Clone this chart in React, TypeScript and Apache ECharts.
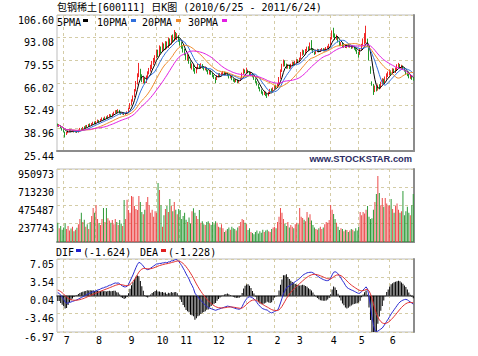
import React, { useEffect, useRef } from "react";
import * as echarts from "echarts";

// ---- calendar (trading days per month, 2010/6/25 - 2011/6/24) ----
const monthLabels = ["6", "7", "8", "9", "10", "11", "12", "1", "2", "3", "4", "5", "6"];
const monthYears = [2010, 2010, 2010, 2010, 2010, 2010, 2010, 2011, 2011, 2011, 2011, 2011, 2011];
const monthTradingDays = [4, 22, 22, 19, 16, 22, 23, 19, 15, 23, 19, 21, 17];

// ---- daily prices ----
const opens = [
  41.2, 40.5, 40.6, 39.0,
  38.0, 36.8, 35.7, 36.5, 37.2, 37.9, 37.1, 37.5, 36.8, 37.2, 36.6, 38.0, 38.6, 38.3, 39.5, 39.2, 40.4, 40.1, 41.3, 40.9, 41.7, 42.5,
  42.0, 42.9, 43.6, 43.0, 44.2, 44.9, 44.4, 45.5, 45.1, 46.3, 46.9, 46.2, 47.5, 48.4, 49.1, 48.7, 49.7, 48.1, 47.7, 48.0, 47.4, 47.9,
  48.7, 50.8, 53.4, 55.3, 58.1, 61.8, 66.0, 71.0, 73.0, 70.0, 67.5, 68.2, 66.5, 69.8, 72.1, 73.8, 75.0, 78.2, 79.0,
  82.0, 84.0, 82.8, 86.0, 85.2, 88.0, 86.5, 89.0, 87.8, 90.8, 89.6, 93.0, 91.8, 95.0, 93.5, 94.0,
  91.5, 89.0, 87.4, 85.3, 83.2, 80.5, 81.6, 78.0, 75.4, 76.6, 74.0, 72.6, 75.0, 76.4, 75.0, 76.8, 75.3, 74.4, 74.8, 73.5, 72.0, 72.8,
  71.4, 70.2, 69.0, 68.4, 70.1, 71.0, 70.5, 71.7, 72.1, 71.2, 71.8, 70.5, 69.4, 69.8, 68.3, 67.4, 66.9, 67.8, 66.7, 67.5, 68.8, 71.6, 73.3,
  72.8, 73.4, 72.4, 71.0, 71.6, 70.0, 68.4, 66.7, 65.0, 63.2, 61.6, 60.3, 59.5, 60.5, 59.0, 58.5, 60.3, 62.0, 61.4,
  62.9, 64.1, 63.6, 65.4, 69.0, 73.1, 76.6, 78.4, 76.8, 75.2, 76.5, 75.0, 76.9, 78.1, 77.3,
  78.4, 79.6, 78.9, 80.8, 83.0, 84.8, 83.5, 85.6, 87.0, 86.0, 88.5, 86.0, 84.1, 83.8, 85.0, 85.6, 85.0, 85.7, 86.0, 85.3, 86.0, 86.9, 87.5,
  88.8, 92.6, 96.0, 94.3, 92.6, 93.5, 90.6, 88.8, 89.5, 87.8, 88.4, 87.5, 88.5, 87.8, 88.0, 87.1, 87.9, 86.5, 85.7,
  84.0, 83.4, 85.9, 88.8, 90.1, 91.5, 91.8, 87.5, 74.5, 66.0, 63.0, 61.5, 63.2, 62.0, 64.4, 63.1, 65.7, 67.5, 66.4, 69.0, 70.6,
  71.4, 72.5, 71.9, 73.8, 72.9, 74.3, 76.0, 76.6, 75.3, 75.8, 74.7, 73.3, 71.5, 70.9, 69.3, 69.8, 68.5,
];
const closes = [
  40.6, 40.9, 39.2, 38.1,
  37.0, 35.6, 36.4, 37.3, 37.8, 37.2, 37.6, 36.9, 37.1, 36.7, 37.9, 38.5, 38.2, 39.4, 39.1, 40.3, 40.0, 41.2, 40.8, 41.6, 42.4, 41.9,
  42.8, 43.5, 42.9, 44.1, 44.8, 44.3, 45.4, 45.0, 46.2, 46.8, 46.1, 47.4, 48.3, 49.0, 48.6, 49.6, 48.2, 47.6, 48.1, 47.3, 47.8, 48.6,
  50.6, 53.2, 55.1, 57.9, 61.5, 65.9, 70.4, 73.5, 70.2, 67.8, 68.4, 66.3, 69.6, 71.9, 73.6, 75.2, 77.9, 79.1, 81.5,
  83.8, 82.6, 85.7, 84.9, 87.8, 86.4, 88.9, 87.5, 90.6, 89.4, 92.8, 91.6, 95.2, 93.4, 94.1, 91.8,
  89.2, 87.6, 85.1, 83.6, 80.4, 81.9, 78.3, 75.6, 76.8, 74.1, 72.8, 74.9, 76.3, 75.2, 76.9, 75.4, 74.2, 75.0, 73.6, 72.1, 72.9, 71.5,
  70.3, 69.1, 68.2, 70.0, 71.2, 70.4, 71.6, 72.3, 71.3, 71.9, 70.6, 69.5, 69.9, 68.4, 67.5, 67.0, 67.9, 66.8, 67.4, 68.6, 71.5, 73.4, 72.6,
  73.6, 72.6, 71.2, 71.8, 70.1, 68.6, 66.9, 65.2, 63.4, 61.8, 60.5, 59.4, 60.6, 59.1, 58.4, 60.2, 61.9, 61.3, 62.8,
  64.0, 63.5, 65.2, 68.8, 72.9, 76.4, 78.6, 76.9, 75.3, 76.4, 75.1, 76.8, 78.0, 77.2, 78.6,
  79.5, 78.8, 80.6, 82.9, 84.6, 83.7, 85.4, 86.9, 85.8, 88.4, 86.2, 84.6, 83.6, 84.9, 85.8, 84.9, 85.6, 86.2, 85.4, 85.9, 86.8, 87.4, 88.6,
  92.4, 95.8, 94.5, 92.8, 93.6, 90.8, 88.9, 89.6, 87.9, 88.3, 87.6, 88.4, 87.9, 88.1, 87.2, 87.8, 86.6, 85.8, 84.2,
  83.3, 85.7, 88.6, 89.9, 91.4, 92.3, 88.2, 79.4, 71.5, 64.4, 61.8, 63.4, 62.1, 64.2, 63.0, 65.6, 67.3, 66.6, 68.9, 70.5, 71.3,
  72.6, 71.8, 73.7, 73.0, 74.2, 75.9, 76.8, 75.4, 75.9, 74.8, 73.4, 71.6, 71.0, 69.5, 69.9, 68.6, 68.2,
];
const lows = [
  40.0, 39.8, 38.9, 37.6,
  36.5, 33.5, 35.0, 36.0, 36.8, 36.9, 36.7, 36.5, 36.4, 36.2, 36.4, 37.6, 37.8, 38.0, 38.7, 38.9, 39.6, 39.8, 40.4, 40.5, 41.2, 41.5,
  41.6, 42.5, 42.6, 42.7, 43.7, 43.8, 44.0, 44.5, 44.8, 45.8, 45.7, 45.9, 47.0, 47.9, 48.0, 48.3, 47.8, 47.1, 47.2, 46.9, 47.0, 47.5,
  48.4, 50.5, 52.8, 54.9, 57.6, 61.0, 65.1, 69.5, 69.0, 66.5, 65.8, 65.5, 66.0, 69.0, 71.2, 72.8, 74.3, 76.8, 78.2,
  80.9, 81.5, 82.0, 83.6, 84.5, 85.5, 85.8, 86.6, 87.0, 88.2, 89.0, 90.4, 91.0, 92.0, 91.6, 90.6,
  88.4, 86.5, 84.2, 82.5, 79.8, 79.2, 77.5, 74.8, 74.0, 72.9, 71.5, 71.8, 74.2, 74.6, 74.5, 74.6, 73.5, 73.6, 72.8, 71.2, 71.0, 70.9,
  69.6, 68.4, 66.0, 67.8, 69.4, 69.8, 70.0, 71.0, 70.6, 70.8, 70.1, 68.7, 68.8, 67.7, 66.8, 66.2, 66.5, 66.0, 66.1, 67.2, 68.5, 71.0, 71.8,
  72.0, 71.8, 70.6, 70.3, 69.4, 67.9, 66.1, 64.5, 62.6, 61.0, 59.6, 58.6, 58.9, 58.2, 57.1, 58.1, 59.8, 60.6, 61.0,
  62.4, 62.9, 63.2, 65.0, 68.5, 72.6, 75.8, 76.0, 74.5, 74.6, 74.3, 74.6, 76.2, 76.5, 76.9,
  77.8, 78.0, 78.4, 80.2, 82.3, 82.9, 83.0, 84.8, 85.1, 85.6, 85.5, 83.9, 82.8, 83.2, 84.4, 84.3, 84.5, 85.0, 84.9, 84.8, 85.6, 86.4, 87.0,
  88.5, 92.0, 93.2, 91.6, 91.8, 90.2, 88.1, 88.0, 87.2, 87.0, 86.9, 86.8, 87.3, 87.1, 86.4, 86.7, 85.9, 84.9, 83.4,
  81.2, 82.8, 85.2, 87.9, 89.0, 89.8, 87.6, 79.4, 71.5, 64.4, 58.9, 60.6, 61.0, 61.5, 62.2, 62.7, 65.0, 65.4, 66.0, 68.1, 69.6,
  70.7, 70.9, 71.2, 72.2, 72.0, 73.6, 75.1, 74.8, 74.5, 74.0, 72.8, 70.9, 70.1, 68.8, 68.5, 67.9, 67.4,
];
const highs = [
  41.8, 41.5, 40.9, 39.3,
  38.4, 37.0, 36.9, 37.8, 38.3, 38.4, 38.0, 37.9, 37.5, 37.6, 38.2, 39.2, 39.0, 39.8, 40.2, 40.8, 41.0, 41.6, 41.9, 42.1, 42.9, 43.0,
  43.4, 44.2, 43.9, 44.6, 45.5, 45.3, 46.0, 46.1, 46.8, 47.5, 47.3, 47.9, 48.9, 49.8, 49.9, 50.4, 50.0, 48.6, 48.7, 48.4, 48.3, 49.1,
  51.2, 54.0, 56.3, 58.6, 62.4, 67.2, 71.8, 78.0, 74.5, 71.2, 69.8, 69.0, 70.5, 73.0, 75.0, 76.9, 79.2, 81.0, 82.6,
  86.0, 85.9, 88.5, 87.8, 90.3, 89.6, 91.0, 90.8, 93.2, 92.6, 94.5, 95.0, 97.6, 96.5, 95.8, 94.6,
  92.3, 90.4, 88.0, 86.4, 84.0, 83.1, 82.0, 78.9, 77.7, 77.0, 74.9, 75.6, 77.4, 77.2, 77.8, 77.3, 76.0, 75.9, 75.3, 73.9, 73.6, 73.4,
  72.0, 70.9, 69.5, 70.6, 71.8, 71.9, 72.3, 73.2, 72.8, 72.6, 72.2, 70.8, 70.5, 70.1, 68.7, 68.1, 68.4, 68.2, 67.9, 69.2, 72.2, 74.6, 74.1,
  75.2, 74.0, 72.9, 72.5, 72.0, 70.4, 68.8, 67.1, 65.5, 63.6, 62.2, 61.0, 61.2, 60.9, 59.6, 60.8, 62.5, 62.8, 63.4,
  64.7, 65.0, 65.9, 69.6, 74.1, 77.5, 80.0, 79.6, 77.6, 77.2, 77.0, 77.5, 78.8, 78.7, 79.3,
  80.3, 80.2, 81.2, 84.5, 86.0, 85.6, 86.3, 87.7, 87.9, 90.2, 91.6, 86.5, 84.8, 85.5, 86.4, 86.2, 86.3, 86.9, 86.8, 86.6, 87.5, 88.2, 89.4,
  93.6, 97.4, 99.0, 95.6, 94.9, 93.9, 91.2, 90.4, 90.2, 89.0, 89.1, 89.0, 89.2, 88.9, 88.6, 88.4, 88.2, 86.9, 86.0,
  84.6, 86.3, 89.4, 92.6, 95.8, 100.2, 92.5, 87.9, 76.0, 67.0, 65.5, 64.5, 64.0, 65.1, 65.3, 66.8, 68.9, 68.6, 69.9, 71.8, 72.9,
  74.0, 73.5, 74.8, 74.6, 75.3, 77.2, 78.0, 77.4, 76.9, 76.5, 75.2, 73.8, 72.4, 71.4, 70.8, 70.3, 69.4,
];
// daily volume, in thousands of shares
const volumesK = [
  250, 180, 210, 160,
  190, 240, 170, 210, 150, 175, 200, 140, 160, 185, 230, 300, 380, 260, 290, 200, 230, 170, 260, 340, 443, 380,
  482, 300, 247, 220, 300, 443, 260, 443, 310, 280, 250, 287, 230, 300, 260, 220, 287, 240, 210, 547, 300, 550,
  417, 380, 600, 590, 470, 430, 417, 600, 520, 390, 360, 420, 521, 586, 480, 380, 420, 330, 400,
  380, 768, 677, 480, 200, 350, 430, 470, 390, 560, 470, 400, 520, 420, 360, 430,
  417, 300, 339, 380, 290, 260, 320, 240, 400, 440, 380, 340, 300, 417, 250, 270, 230, 220, 260, 270, 240, 220,
  260, 230, 270, 250, 200, 190, 230, 180, 130, 150, 170, 190, 160, 200, 180, 170, 150, 190, 210, 260, 300, 287, 250,
  230, 156, 180, 130, 117, 100, 130, 150, 110, 140, 120, 160, 130, 150, 160, 140, 130, 170, 190,
  200, 180, 260, 330, 443, 380, 300, 240, 210, 260, 190, 220, 200, 180, 230,
  250, 230, 443, 330, 313, 290, 270, 390, 320, 360, 280, 220, 190, 170, 160, 180, 200, 170, 190, 230, 260, 250, 287,
  482, 420, 365, 300, 250, 200, 156, 180, 170, 140, 160, 156, 130, 150, 170, 160, 140, 180, 150,
  200, 390, 350, 390, 370, 420, 470, 330, 300, 310, 420, 520, 625, 860, 638, 480, 573, 460, 573, 500, 470,
  480, 560, 430, 380, 470, 500, 420, 380, 400, 664, 350, 400, 460, 380, 350, 480, 625,
];
// MACD DIF line
const difs = [
  0.58, 0.45, 0.1, -0.3,
  -0.7, -1.2, -1.46, -1.4, -1.3, -1.2, -1.1, -1.0, -0.9, -0.8, -0.65, -0.5, -0.35, -0.2, -0.05, 0.1, 0.3, 0.4, 0.55, 0.65, 0.8, 0.85,
  0.95, 1.1, 1.15, 1.3, 1.45, 1.5, 1.65, 1.7, 1.85, 2.0, 2.05, 2.2, 2.35, 2.45, 2.4, 2.45, 2.3, 2.0, 1.85, 1.7, 1.7, 1.8,
  2.2, 2.8, 3.4, 4.0, 4.7, 5.4, 6.0, 6.4, 6.3, 6.0, 5.7, 5.3, 5.1, 5.0, 5.1, 5.3, 5.5, 5.7, 5.9,
  6.1, 6.1, 6.2, 6.2, 6.3, 6.3, 6.4, 6.3, 6.5, 6.5, 6.7, 6.7, 6.85, 6.95, 6.9, 6.6,
  6.2, 5.8, 5.3, 4.8, 4.2, 3.7, 3.2, 2.5, 2.0, 1.4, 0.5, 0.1, -0.2, -0.6, -0.9, -1.2, -1.5, -1.8, -2.0, -2.3, -2.4, -2.5,
  -2.6, -2.7, -2.8, -2.7, -2.6, -2.5, -2.4, -2.3, -2.2, -2.1, -2.0, -2.05, -2.1, -2.2, -2.3, -2.4, -2.5, -2.55, -2.6, -2.5, -2.1, -1.5, -1.0,
  -0.6, -0.3, -0.2, -0.25, -0.4, -0.6, -0.9, -1.3, -1.7, -2.0, -2.3, -2.5, -2.6, -2.7, -2.75, -3.0, -3.2, -3.3, -3.2,
  -3.0, -2.9, -2.8, -2.2, -1.4, -0.5, 0.4, 0.9, 1.5, 1.7, 1.9, 2.1, 2.3, 2.5, 2.7,
  2.9, 3.1, 3.3, 3.6, 3.9, 4.1, 4.25, 4.4, 4.45, 4.5, 4.5, 4.4, 4.2, 4.0, 3.8, 3.6, 3.4, 3.25, 3.1, 3.0, 2.9, 2.9, 3.0,
  3.4, 4.0, 4.5, 4.6, 4.5, 4.2, 3.8, 3.4, 2.9, 2.5, 2.0, 1.6, 1.4, 1.25, 1.1, 1.0, 0.85, 0.7, 0.55,
  0.45, 0.5, 0.8, 1.1, 1.4, 1.7, 1.3, -0.2, -2.0, -4.0, -5.6, -6.7, -6.9, -6.8, -6.6, -6.4, -6.2, -5.8, -5.4, -4.9, -4.5,
  -4.0, -3.5, -3.1, -2.7, -2.3, -1.9, -1.5, -1.2, -1.0, -0.85, -0.75, -0.7, -0.8, -1.0, -1.2, -1.4, -1.624,
];
const deaStart = 1.1;

// ---- axis tick labels ----
const priceTicks = ["25.44", "38.96", "52.49", "66.02", "79.55", "93.08", "106.60"];
const volumeTicks = ["", "237743", "475487", "713230", "950973"];
const macdTicks = ["-6.97", "-3.46", "0.04", "3.54", "7.05"];

// ---- legends ----
const maPeriods = [5, 10, 20, 30];
const maNames = ["5PMA", "10PMA", "20PMA", "30PMA"];
const maColors = ["#000000", "#2f6fdc", "#f08c2c", "#e21ee2"];
const titleText = "包钢稀土[600111] 日K图 (2010/6/25 - 2011/6/24)";
const difText = "(-1.624)";
const deaText = "(-1.228)";

const UP = "#f02828";
const DOWN = "#1f9a2a";
const GRIDC = "#d4cca6";
const MONO = '"DejaVu Sans Mono", "Noto Sans CJK SC", monospace';

function buildCategories() {
  const cats: string[] = [];
  const starts: boolean[] = [];
  const months: string[] = [];
  monthTradingDays.forEach((n, m) => {
    for (let k = 0; k < n; k++) {
      cats.push(`${monthYears[m]}/${monthLabels[m]}#${k + 1}`);
      starts.push(k === 0);
      months.push(monthLabels[m]);
    }
  });
  return { cats, starts, months };
}

function movingAverage(n: number) {
  return closes.map((_, i) => {
    const s = Math.max(0, i - n + 1);
    let sum = 0;
    for (let j = s; j <= i; j++) sum += closes[j];
    return +(sum / (i - s + 1)).toFixed(3);
  });
}

// DEA = 9-day EMA of DIF, histogram = 2 * (DIF - DEA)
function macdParts() {
  let dea = deaStart;
  const deas: number[] = [];
  const hist: number[] = [];
  difs.forEach((d, i) => {
    if (i > 0) dea = (dea * 8 + d * 2) / 10;
    deas.push(+dea.toFixed(4));
    hist.push(+(2 * (d - dea)).toFixed(4));
  });
  return { deas, hist };
}

export default function App() {
  const ref = useRef<HTMLDivElement>(null);
  useEffect(() => {
    if (!ref.current) return;
    const chart = echarts.init(ref.current, undefined, { renderer: "svg" });
    const { cats, starts, months } = buildCategories();
    const m = macdParts();

    const pMin = 25.44, pMax = 106.6;
    const pInt = ((pMax - pMin) / 6) * (1 + 1e-9);
    const vMax = 950973;
    const vInt = (vMax / 4) * (1 + 1e-9);
    const mMin = -6.97, mMax = 7.05;
    const mInt = ((mMax - mMin) / 4) * (1 + 1e-9);

    const grids = [
      { top: 15, height: 136 },
      { top: 169, height: 73 },
      { top: 259, height: 73 },
    ];

    const xAxes = grids.map((_, g) => ({
      type: "category",
      gridIndex: g,
      data: cats,
      boundaryGap: true,
      axisTick: { show: false },
      axisLine: { show: true, lineStyle: { color: "#8c8c8c", width: 2 } },
      axisLabel: g === 2
        ? {
            show: true,
            interval: (i: number) => starts[i] && i > 0,
            formatter: (_v: string, i: number) => months[i],
            fontFamily: MONO,
            fontSize: 10,
            color: "#000",
            align: "left",
            margin: 3,
          }
        : { show: false },
      splitLine: {
        show: true,
        interval: (i: number) => starts[i] && i > 0,
        lineStyle: { color: GRIDC, type: [3, 3], width: 1 },
      },
    }));

    const labelStyle = {
      fontFamily: MONO,
      fontSize: 10,
      color: "#000",
      verticalAlign: "top",
      margin: 3,
    };
    const splitStyle = { show: true, lineStyle: { color: GRIDC, type: [3, 3], width: 1 } };

    const yAxes: any[] = [
      {
        type: "value", gridIndex: 0, min: pMin, max: pMax, interval: pInt,
        axisLine: { show: false }, axisTick: { show: false },
        axisLabel: { ...labelStyle, formatter: (v: number) => priceTicks[Math.round((v - pMin) / pInt)] ?? "" },
        splitLine: splitStyle,
      },
      {
        type: "value", gridIndex: 1, min: 0, max: vMax, interval: vInt,
        axisLine: { show: false }, axisTick: { show: false },
        axisLabel: { ...labelStyle, formatter: (v: number) => volumeTicks[Math.round(v / vInt)] ?? "" },
        splitLine: splitStyle,
      },
      {
        type: "value", gridIndex: 2, min: mMin, max: mMax, interval: mInt,
        axisLine: { show: false }, axisTick: { show: false },
        axisLabel: { ...labelStyle, formatter: (v: number) => macdTicks[Math.round((v - mMin) / mInt)] ?? "" },
        splitLine: splitStyle,
      },
    ];
    [0, 1, 2].forEach((g) => {
      yAxes.push({
        type: "value", gridIndex: g, position: "right", min: 0, max: 1,
        axisLine: { show: true, lineStyle: { color: "#8c8c8c", width: 2 } },
        axisTick: { show: false }, axisLabel: { show: false }, splitLine: { show: false },
      });
    });

    const series: any[] = [
      {
        type: "candlestick",
        xAxisIndex: 0, yAxisIndex: 0,
        data: cats.map((_, i) => [opens[i], closes[i], lows[i], highs[i]]),
        barWidth: "60%",
        itemStyle: { color: UP, color0: DOWN, borderColor: UP, borderColor0: DOWN, borderWidth: 1 },
      },
      ...maPeriods.map((p, k) => ({
        type: "line",
        name: maNames[k],
        xAxisIndex: 0, yAxisIndex: 0,
        data: movingAverage(p),
        symbol: "none",
        showSymbol: false,
        lineStyle: { color: maColors[k], width: 1 },
        z: 3,
      })),
      {
        type: "bar",
        xAxisIndex: 1, yAxisIndex: 1,
        barWidth: "60%",
        data: volumesK.map((v, i) => ({
          value: v * 1000,
          itemStyle: { color: closes[i] >= opens[i] ? "#ec4a4a" : "#2f9a38" },
        })),
      },
      {
        type: "bar",
        xAxisIndex: 2, yAxisIndex: 2,
        barWidth: "50%",
        data: m.hist,
        itemStyle: { color: "#000000" },
      },
      {
        type: "line", name: "DIF",
        xAxisIndex: 2, yAxisIndex: 2,
        data: difs, symbol: "none", showSymbol: false,
        lineStyle: { color: "#2a2ad0", width: 1 },
      },
      {
        type: "line", name: "DEA",
        xAxisIndex: 2, yAxisIndex: 2,
        data: m.deas, symbol: "none", showSymbol: false,
        lineStyle: { color: "#e23030", width: 1 },
      },
    ];

    const legendX = [57, 97, 142, 188];
    const markerX = [83, 131, 176, 222];
    const graphicEls: any[] = [
      {
        type: "text", x: 57, y: 7,
        style: { text: titleText, font: `10px ${MONO}`, fill: "#000", align: "left", verticalAlign: "middle" },
      },
      {
        type: "text", x: 412, y: 159,
        style: { text: "www.STOCKSTAR.com", font: 'bold 9.3px "Liberation Sans", Arial, sans-serif', fill: "#2c2c64", align: "right", verticalAlign: "middle" },
      },
      {
        type: "text", x: 56, y: 252,
        style: { text: "DIF", font: `10px ${MONO}`, fill: "#000", align: "left", verticalAlign: "middle" },
      },
      { type: "rect", shape: { x: 76, y: 249, width: 5, height: 3 }, style: { fill: "#2020d0" } },
      {
        type: "text", x: 83, y: 252,
        style: { text: difText, font: `10px ${MONO}`, fill: "#000", align: "left", verticalAlign: "middle" },
      },
      {
        type: "text", x: 140, y: 252,
        style: { text: "DEA", font: `10px ${MONO}`, fill: "#000", align: "left", verticalAlign: "middle" },
      },
      { type: "rect", shape: { x: 161, y: 249, width: 5, height: 3 }, style: { fill: "#e02020" } },
      {
        type: "text", x: 168, y: 252,
        style: { text: deaText, font: `10px ${MONO}`, fill: "#000", align: "left", verticalAlign: "middle" },
      },
    ];
    maNames.forEach((n, k) => {
      graphicEls.push({
        type: "text", x: legendX[k], y: 22,
        style: { text: n, font: `10px ${MONO}`, fill: "#000", align: "left", verticalAlign: "middle" },
        z: 100,
      });
      graphicEls.push({
        type: "rect", shape: { x: markerX[k], y: 19, width: 5, height: 3 },
        style: { fill: maColors[k] }, z: 100,
      });
    });

    chart.setOption({
      animation: false,
      backgroundColor: "#ffffff",
      grid: grids.map((g) => ({
        left: 57, width: 357, top: g.top, height: g.height,
        show: true, borderColor: "#bdbdbd", borderWidth: 1, backgroundColor: "#ffffff",
      })),
      xAxis: xAxes,
      yAxis: yAxes,
      series,
      graphic: { elements: graphicEls },
    });
    return () => chart.dispose();
  }, []);

  return (
    <div
      ref={ref}
      style={{ position: "absolute", left: 0, top: 0, width: 478, height: 356, background: "#fff" }}
    />
  );
}
